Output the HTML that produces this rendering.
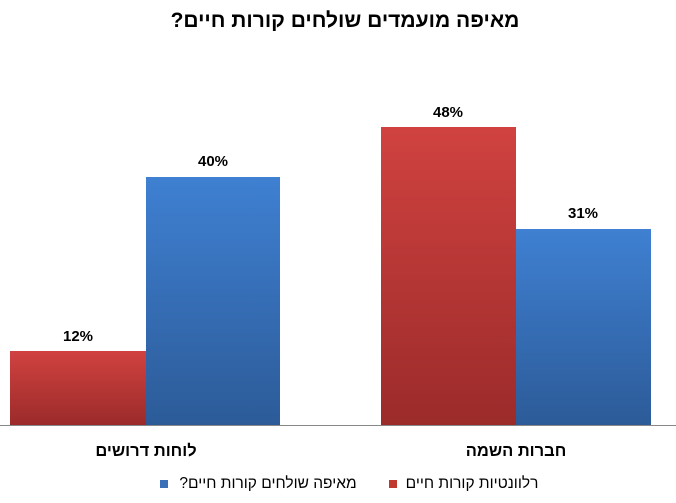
<!DOCTYPE html>
<html><head><meta charset="utf-8"><style>
body{margin:0;background:#fff;}
svg text{font-family:"Liberation Sans","DejaVu Sans",sans-serif;}
</style></head><body>
<svg width="676" height="498" xmlns="http://www.w3.org/2000/svg">
<defs>
<linearGradient id="r" x1="0" y1="0" x2="0" y2="1"><stop offset="0" stop-color="#d04240"/><stop offset="1" stop-color="#9b2b2a"/></linearGradient>
<linearGradient id="b" x1="0" y1="0" x2="0" y2="1"><stop offset="0" stop-color="#3f80d2"/><stop offset="1" stop-color="#2c5b98"/></linearGradient>
</defs>
<text x="345" y="27" text-anchor="middle" font-size="21" font-weight="bold" direction="rtl">מאיפה מועמדים שולחים קורות חיים?</text>
<rect x="10" y="351" width="136" height="74" fill="url(#r)"/>
<rect x="146" y="177" width="134" height="248" fill="url(#b)"/>
<rect x="381" y="127" width="135" height="298" fill="url(#r)"/>
<rect x="516" y="229" width="135" height="196" fill="url(#b)"/>
<line x1="0" y1="425.5" x2="676" y2="425.5" stroke="#888" stroke-width="1"/>
<g font-size="15" font-weight="bold" text-anchor="middle">
<text x="78" y="341">12%</text>
<text x="213" y="166">40%</text>
<text x="448" y="117">48%</text>
<text x="583" y="218">31%</text>
</g>
<g font-size="16.5" font-weight="bold" text-anchor="middle" direction="rtl">
<text x="146" y="456">לוחות דרושים</text>
<text x="516" y="456">חברות השמה</text>
</g>
<rect x="389" y="480" width="8" height="8" fill="#c0392f"/>
<text x="472" y="488" font-size="15.5" text-anchor="middle" direction="rtl">רלוונטיות קורות חיים</text>
<rect x="160" y="480" width="8" height="8" fill="#3a70b8"/>
<text x="268" y="488" font-size="15.5" text-anchor="middle" direction="rtl">מאיפה שולחים קורות חיים?</text>
</svg>
</body></html>
